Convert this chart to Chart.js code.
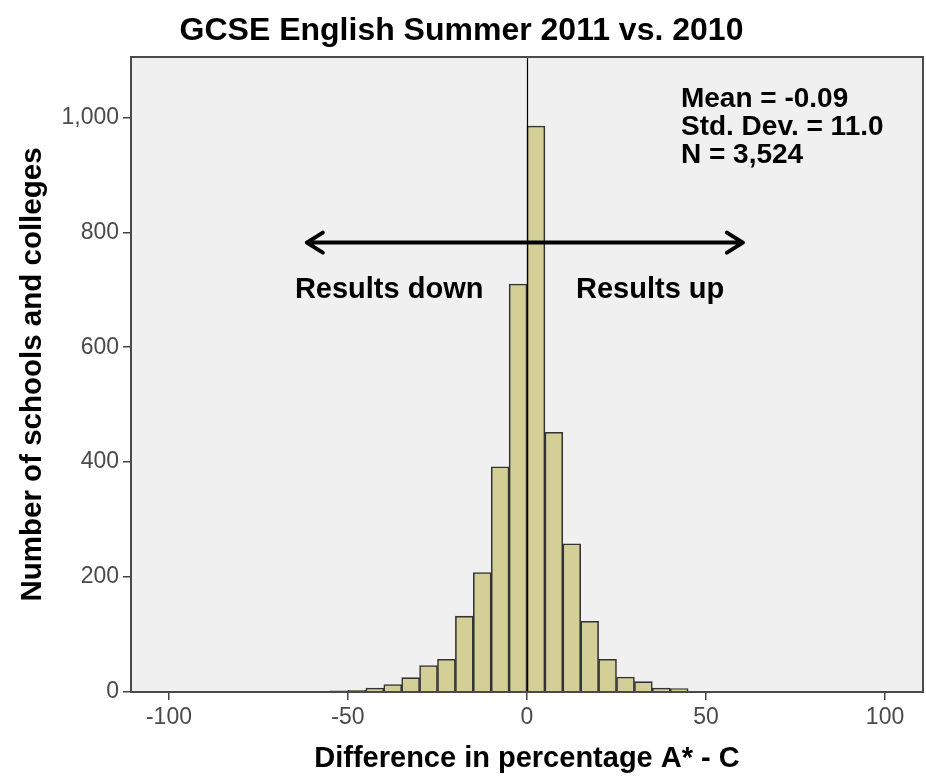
<!DOCTYPE html>
<html>
<head>
<meta charset="utf-8">
<script src="https://cdn.jsdelivr.net/npm/chart.js@4"></script>
<style>
  body { margin: 0; background: #fff; }
</style>
</head>
<body>
<canvas id="myChart" width="926" height="779"></canvas>
<script>
// histogram bins, width 5, left edges
const binStart = [-65, -60, -55, -50, -45, -40, -35, -30, -25, -20, -15, -10, -5,
                  0, 5, 10, 15, 20, 25, 30, 35, 40, 45];
const counts = [1, 1, 2, 3, 7, 13, 25, 46, 57, 132, 208, 392, 710,
                985, 452, 258, 123, 57, 26, 18, 7, 6, 1];
const xTicks = [-100, -50, 0, 50, 100];
const yTicks = [0, 200, 400, 600, 800, 1000];
const statLines = ['Mean = -0.09', 'Std. Dev. = 11.0', 'N = 3,524'];

const binWidth = 5;
const points = binStart.map((s, i) => ({ x: s + binWidth / 2, y: counts[i] }));

const FONT = "'Liberation Sans', Arial, sans-serif";

const extras = {
  id: 'extras',
  beforeDatasetsDraw(chart) {
    const { ctx, chartArea: a } = chart;
    ctx.save();
    ctx.fillStyle = '#f0f0f0';
    ctx.fillRect(a.left, a.top, a.right - a.left, a.bottom - a.top);
    ctx.restore();
  },
  afterDatasetsDraw(chart) {
    const { ctx, chartArea: a, scales: { x, y } } = chart;
    ctx.save();
    // zero line
    ctx.strokeStyle = '#000';
    ctx.lineWidth = 1.2;
    ctx.beginPath();
    ctx.moveTo(Math.round(x.getPixelForValue(0)) + 0.5, a.top);
    ctx.lineTo(Math.round(x.getPixelForValue(0)) + 0.5, a.bottom);
    ctx.stroke();
    // frame
    ctx.strokeStyle = '#4a4a4a';
    ctx.lineWidth = 2;
    ctx.strokeRect(a.left, a.top, a.right - a.left, a.bottom - a.top);

    // arrow
    const ay = y.getPixelForValue(782);
    const x1 = x.getPixelForValue(-61.5), x2 = x.getPixelForValue(60.3);
    ctx.strokeStyle = '#000';
    ctx.lineWidth = 4;
    ctx.lineCap = 'round';
    ctx.lineJoin = 'round';
    ctx.beginPath();
    ctx.moveTo(x1, ay); ctx.lineTo(x2, ay);
    ctx.moveTo(x1 + 16, ay - 10); ctx.lineTo(x1, ay); ctx.lineTo(x1 + 16, ay + 10);
    ctx.moveTo(x2 - 16, ay - 10); ctx.lineTo(x2, ay); ctx.lineTo(x2 - 16, ay + 10);
    ctx.stroke();

    ctx.fillStyle = '#000';
    ctx.font = 'bold 29px ' + FONT;
    ctx.textAlign = 'center';
    ctx.textBaseline = 'middle';
    ctx.fillText('Results down', x.getPixelForValue(-38.5), y.getPixelForValue(700));
    ctx.fillText('Results up', x.getPixelForValue(34.4), y.getPixelForValue(700));

    ctx.textAlign = 'left';
    ctx.font = 'bold 28px ' + FONT;
    const sx = x.getPixelForValue(43);
    statLines.forEach((t, i) => {
      ctx.fillText(t, sx, y.getPixelForValue(1031) + i * 28);
    });
    ctx.restore();
  }
};

new Chart(document.getElementById('myChart'), {
  type: 'bar',
  data: {
    datasets: [{
      data: points,
      backgroundColor: '#d3cf96',
      borderColor: '#333',
      borderWidth: 1.6,
      barPercentage: 1,
      categoryPercentage: 1
    }]
  },
  options: {
    responsive: false,
    animation: false,
    layout: { padding: { left: 0, right: 3, top: 0, bottom: 0 } },
    plugins: {
      legend: { display: false },
      tooltip: { enabled: false },
      title: {
        display: true,
        text: 'GCSE English Summer 2011 vs. 2010',
        color: '#000',
        font: { family: FONT, size: 32, weight: 'bold', lineHeight: 1.2 },
        padding: { top: 12, bottom: 6.6 }
      }
    },
    scales: {
      x: {
        type: 'linear',
        min: -110.6,
        max: 110.6,
        offset: false,
        afterBuildTicks: s => { s.ticks = xTicks.map(v => ({ value: v })); },
        afterFit: s => { s.height = 87; },
        grid: { offset: false, drawOnChartArea: false, drawTicks: true, tickLength: 8, color: '#444', lineWidth: 1.5 },
        border: { display: true, color: '#4a4a4a', width: 2 },
        ticks: { color: '#4a4a4a', font: { family: FONT, size: 23 }, padding: 4, maxRotation: 0 },
        title: {
          display: true,
          text: 'Difference in percentage A* - C',
          color: '#000',
          font: { family: FONT, size: 29, weight: 'bold', lineHeight: 1.2 },
          padding: { top: 0, bottom: 3 }
        }
      },
      y: {
        min: 0,
        max: 1105,
        afterBuildTicks: s => { s.ticks = yTicks.map(v => ({ value: v })); },
        afterFit: s => { s.width = 131; },
        grid: { drawOnChartArea: false, drawTicks: true, tickLength: 8, color: '#444', lineWidth: 1.5 },
        border: { display: true, color: '#4a4a4a', width: 2 },
        ticks: {
          color: '#4a4a4a',
          font: { family: FONT, size: 23 },
          padding: 4,
          callback: v => v.toLocaleString('en-US')
        },
        title: {
          display: true,
          text: 'Number of schools and colleges',
          color: '#000',
          font: { family: FONT, size: 29.5, weight: 'bold', lineHeight: 1.2 },
          padding: { top: 15, bottom: 0 }
        }
      }
    }
  },
  plugins: [extras]
});
</script>
</body>
</html>
